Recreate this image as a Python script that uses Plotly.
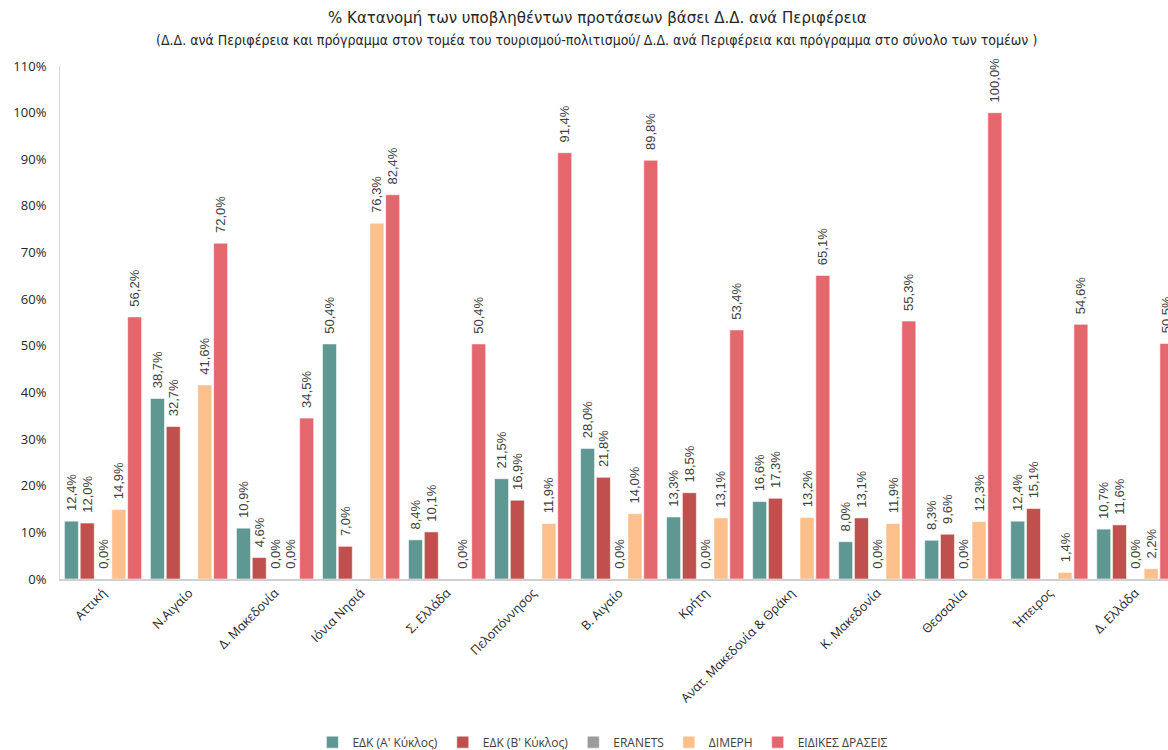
import plotly.graph_objects as go

regions = ["Αττική", "Ν.Αιγαίο", "Δ. Μακεδονία", "Ιόνια Νησιά", "Σ. Ελλάδα", "Πελοπόννησος",
           "Β. Αιγαίο", "Κρήτη", "Ανατ. Μακεδονία & Θράκη", "Κ. Μακεδονία", "Θεσσαλία",
           "Ήπειρος", "Δ. Ελλάδα"]

edk_a = [12.4, 38.7, 10.9, 50.4, 8.4, 21.5, 28.0, 13.3, 16.6, 8.0, 8.3, 12.4, 10.7]
edk_b = [12.0, 32.7, 4.6, 7.0, 10.1, 16.9, 21.8, 18.5, 17.3, 13.1, 9.6, 15.1, 11.6]
eranets = [0.0, None, 0.0, None, None, None, 0.0, 0.0, None, 0.0, 0.0, None, 0.0]
dimeri = [14.9, 41.6, 0.0, 76.3, 0.0, 11.9, 14.0, 13.1, 13.2, 11.9, 12.3, 1.4, 2.2]
eidikes = [56.2, 72.0, 34.5, 82.4, 50.4, 91.4, 89.8, 53.4, 65.1, 55.3, 100.0, 54.6, 50.5]

series_names = ["ΕΔΚ (Α' Κύκλος)", "ΕΔΚ (Β' Κύκλος)", "ERANETS", "ΔΙΜΕΡΗ", "ΕΙΔΙΚΕΣ ΔΡΑΣΕΙΣ"]
series_values = [edk_a, edk_b, eranets, dimeri, eidikes]
series_colors = ["#5F9793", "#C0504D", "#9B9B9B", "#FDBF8B", "#E5676E"]

y_ticks = list(range(0, 111, 10))
y_ticktext = [f"{v}%" for v in y_ticks]

title_text = "% Κατανομή των υποβληθέντων προτάσεων βάσει Δ.Δ. ανά Περιφέρεια"
subtitle_text = ("(Δ.Δ. ανά Περιφέρεια και πρόγραμμα στον τομέα του τουρισμού-πολιτισμού/ "
                 "Δ.Δ. ανά Περιφέρεια και πρόγραμμα στο σύνολο των τομέων )")

fig = go.Figure()
for name, vals, col in zip(series_names, series_values, series_colors):
    fig.add_trace(go.Bar(
        x=regions, y=vals, name=name,
        marker=dict(color=col, line=dict(color="rgba(255,255,255,0.55)", width=1)),
        texttemplate="\u00a0\u00a0%{y:.1f}%", textposition="outside", textangle=-90,
        constraintext="none", cliponaxis=False,
        textfont=dict(family="Liberation Sans, Arial, sans-serif", size=13, color="#404040"),
    ))

fig.add_shape(type="line", xref="x", yref="y", x0=regions[4], x1=regions[4], y0=0, y1=-4.1,
              line=dict(color="#A6A6A6", width=1))

fig.add_annotation(text=title_text, xref="paper", yref="paper", x=0.485, y=1.0,
                   yshift=66 - 17, yanchor="middle", xanchor="center", showarrow=False,
                   font=dict(family="DejaVu Sans Condensed, sans-serif", size=16.7, color="#262626"))
fig.add_annotation(text=subtitle_text, xref="paper", yref="paper", x=0.484, y=1.0,
                   yshift=66 - 40, yanchor="middle", xanchor="center", showarrow=False,
                   font=dict(family="DejaVu Sans Condensed, sans-serif", size=14, color="#262626"))

fig.update_layout(
    width=1168, height=750,
    margin=dict(l=60, r=0, t=66, b=171, autoexpand=False),
    paper_bgcolor="white", plot_bgcolor="white",
    separators=",.",
    barmode="group", bargap=0.082, bargroupgap=0.114,
    xaxis=dict(
        range=[-0.5, 12.38], tickangle=-45, showline=True, linecolor="#D0D0D0", linewidth=1.5,
        ticks="", showgrid=False, automargin=False,
        tickfont=dict(family="Open Sans, sans-serif", size=12.5, color="#262626"),
    ),
    yaxis=dict(
        range=[0, 110], tickvals=y_ticks, ticktext=y_ticktext, showline=True, linecolor="#D9D9D9",
        linewidth=1, showgrid=False, zeroline=False, ticks="", automargin=False,
        ticklabelstandoff=10,
        tickfont=dict(family="Open Sans, sans-serif", size=13, color="#262626"),
    ),
    legend=dict(
        orientation="h", x=0.49, xanchor="center", y=-0.318, yanchor="middle",
        font=dict(family="Open Sans, sans-serif", size=12, color="#404040"),
        traceorder="normal",
    ),
)

fig.write_html("out.html", config={"displayModeBar": False},
               post_script="document.body.style.margin='0';")
